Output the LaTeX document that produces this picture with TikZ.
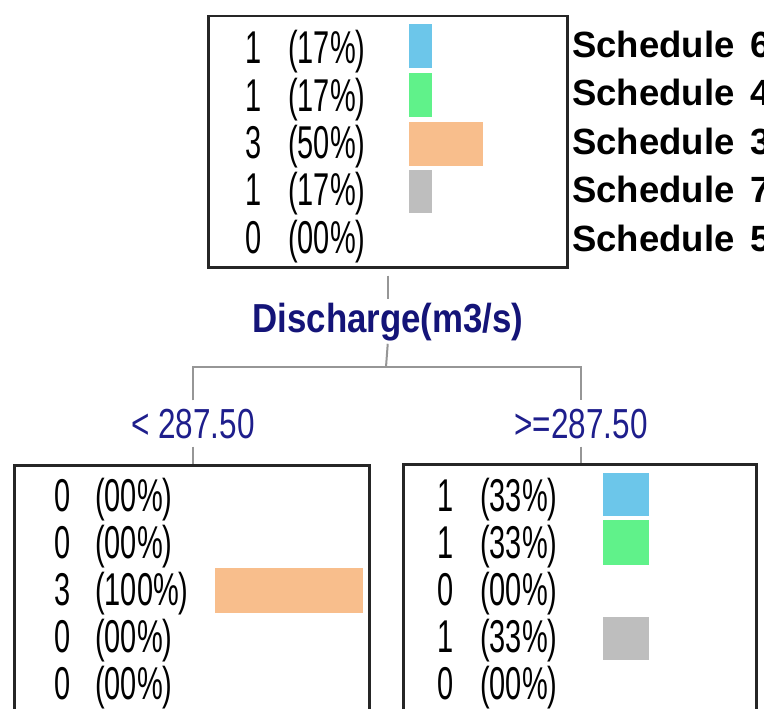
\documentclass[tikz,border=0pt]{standalone}
\usepackage{fontspec}
\setmainfont{Liberation Sans}
\newfontfamily\numfont[FakeStretch=0.63]{Liberation Sans}
\newfontfamily\labfont[FakeStretch=0.75]{Liberation Sans}
\newfontfamily\discfont[FakeStretch=0.86]{Liberation Sans}
\definecolor{barblue}{RGB}{108,198,234}
\definecolor{bargreen}{RGB}{96,242,138}
\definecolor{barorange}{RGB}{248,190,140}
\definecolor{bargray}{RGB}{190,190,190}
\definecolor{labnavy}{RGB}{30,30,140}
\definecolor{discnavy}{RGB}{20,20,120}
\definecolor{conncol}{RGB}{150,150,150}
\begin{document}
\begin{tikzpicture}[x=1pt,y=-1pt,
  boxnode/.style={draw=black!85, line width=2.5pt, inner sep=0pt, anchor=north west},
  cnt/.style={inner sep=0pt, anchor=base west, font=\numfont\fontsize{46}{46}\selectfont},
  sched/.style={inner sep=0pt, anchor=base west, font=\bfseries\fontsize{36.5}{36.5}\selectfont},
  thr/.style={inner sep=8pt, text=labnavy, anchor=base, font=\labfont\fontsize{42}{42}\selectfont},
  disclab/.style={inner sep=3pt, text=discnavy, anchor=base, font=\discfont\bfseries\fontsize{40.5}{40.5}\selectfont},
  conn/.style={draw=conncol, line width=2pt}]
\useasboundingbox (0,0) rectangle (764,709);
\clip (0,0) rectangle (764,709);
\fill[white] (0,0) rectangle (764,709);

% boxes
\node[boxnode, minimum width=359pt, minimum height=251pt] (top) at (207,15) {};
\node[boxnode, minimum width=355pt, minimum height=400pt] (lbox) at (13,464) {};
\node[boxnode, minimum width=353pt, minimum height=400pt] (rbox) at (402,463) {};

% top box rows
\foreach \c/\p/\s [count=\i from 0] in {1/17/6, 1/17/4, 3/50/3, 1/17/7, 0/00/5} {
  \node[cnt] (tc\i) at (245,{64+47.3*\i}) {\c};
  \node[cnt] (tp\i) at (288,{64+47.3*\i}) {(\p\%)};
  \node[sched] (ts\i) at (572,{57.5+48.4*\i}) {Schedule\hspace{0.45em}\s};
}
\fill[barblue]   (409,24)  rectangle ++(23,44);
\fill[bargreen]  (409,73)  rectangle ++(23,44);
\fill[barorange] (409,122) rectangle ++(74,44);
\fill[bargray]   (409,170) rectangle ++(23,43);

% left box rows
\foreach \c/\p [count=\i from 0] in {0/00, 0/00, 3/100, 0/00, 0/00} {
  \node[cnt] (lc\i) at (54,{511+47*\i}) {\c};
  \node[cnt] (lp\i) at (95,{511+47*\i}) {(\p\%)};
}
\fill[barorange] (215,568) rectangle ++(148,45);

% right box rows
\foreach \c/\p [count=\i from 0] in {1/33, 1/33, 0/00, 1/33, 0/00} {
  \node[cnt] (rc\i) at (437,{511+47*\i}) {\c};
  \node[cnt] (rp\i) at (480,{511+47*\i}) {(\p\%)};
}
\fill[barblue]  (603,473) rectangle ++(46,43);
\fill[bargreen] (603,520) rectangle ++(46,45);
\fill[bargray]  (603,617) rectangle ++(46,43);

% split labels
\node[disclab] (disc) at (388,332) {Discharge(m3/s)};
\node[thr] (lt) at (193,438) {< 287.50};
\node[thr] (rt) at (581,438) {>=287.50};
\coordinate (split) at (386,367);

% connectors
\draw[conn, shorten <=7pt] (top.south) -- (top.south |- disc.north);
\draw[conn] (top.south |- disc.south) -- (split);
\draw[conn] (lt.north) |- (split) -| (rt.north);
\draw[conn] (lt.south) -- (lt.south |- lbox.north);
\draw[conn] (rt.south) -- (rt.south |- rbox.north);
\end{tikzpicture}
\end{document}
